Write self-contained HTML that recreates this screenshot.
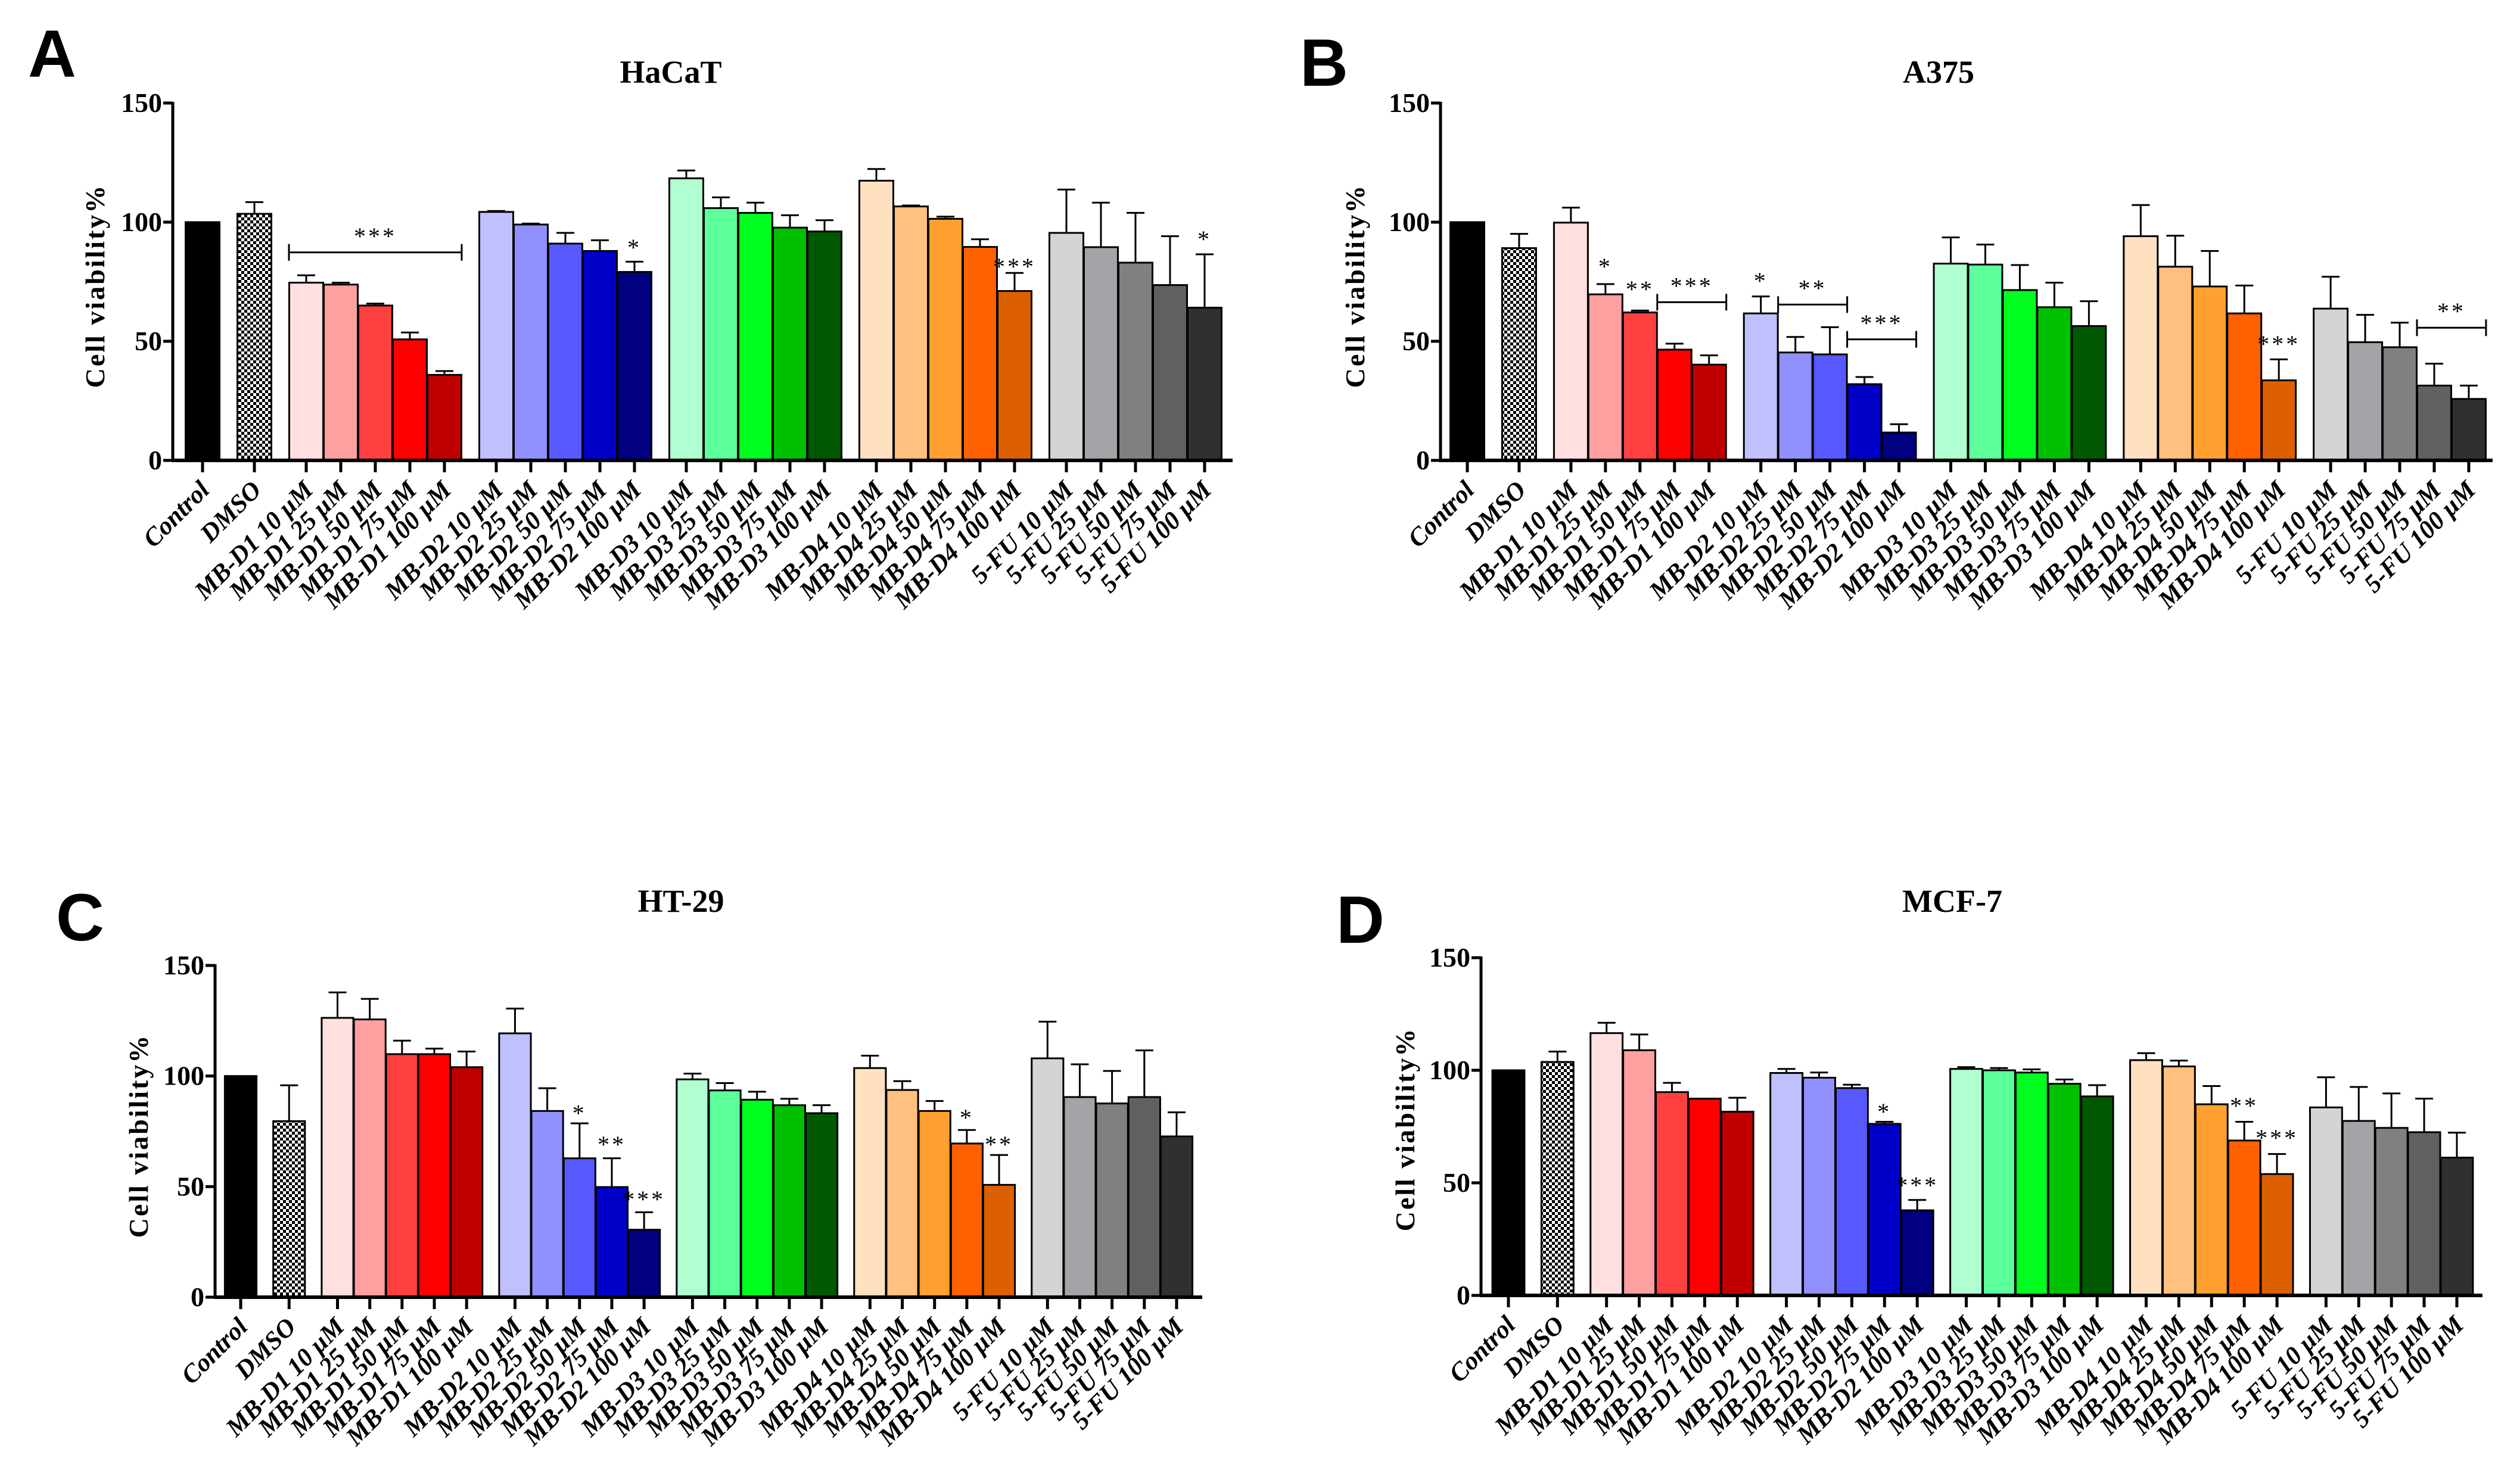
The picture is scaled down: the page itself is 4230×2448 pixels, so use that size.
<!DOCTYPE html>
<html><head><meta charset="utf-8"><style>
html,body{margin:0;padding:0;background:#fff}
svg{display:block}
</style></head><body>
<svg id="fig" width="4230" height="2448" viewBox="0 0 4230 2448" xmlns="http://www.w3.org/2000/svg">
<defs>
<pattern id="chk" width="10" height="10" patternUnits="userSpaceOnUse">
<rect width="10" height="10" fill="#fff"/><rect width="5" height="5" fill="#000"/><rect x="5" y="5" width="5" height="5" fill="#000"/>
</pattern>
</defs>
</svg>
<script>
const categories = ["Control","DMSO","MB-D1 10 μM","MB-D1 25 μM","MB-D1 50 μM","MB-D1 75 μM","MB-D1 100 μM","MB-D2 10 μM","MB-D2 25 μM","MB-D2 50 μM","MB-D2 75 μM","MB-D2 100 μM","MB-D3 10 μM","MB-D3 25 μM","MB-D3 50 μM","MB-D3 75 μM","MB-D3 100 μM","MB-D4 10 μM","MB-D4 25 μM","MB-D4 50 μM","MB-D4 75 μM","MB-D4 100 μM","5-FU 10 μM","5-FU 25 μM","5-FU 50 μM","5-FU 75 μM","5-FU 100 μM"];
const yTicks = [0,50,100,150];
const valuesA = [100,103.5,74.6,73.8,65.0,50.8,35.9,104.3,99.0,91.0,87.9,79.1,118.4,105.9,103.9,97.7,96.1,117.4,106.6,101.4,89.6,71.1,95.5,89.5,83.0,73.6,64.1];
const errTopA = [100,108.4,77.7,74.6,65.8,53.7,37.5,104.7,99.4,95.5,92.4,83.4,121.7,110.4,108.2,102.9,100.8,122.3,107.0,102.3,92.8,78.7,113.7,108.2,103.9,94.1,86.5];
const valuesB = [100,89.1,99.8,69.7,62.1,46.5,40.2,61.7,45.3,44.5,32.0,11.7,82.6,82.2,71.5,64.3,56.4,94.1,81.3,73.0,61.7,33.6,63.7,49.6,47.5,31.4,25.8];
const errTopB = [100,95.1,106.1,74.0,62.9,49.0,44.1,68.8,51.8,55.9,35.0,15.2,93.6,90.6,82.0,74.6,66.8,107.2,94.3,87.9,73.4,42.4,77.1,61.1,57.8,40.6,31.4];
const valuesC = [100,79.6,126.3,125.6,109.9,109.9,104.0,119.3,84.2,62.8,49.8,30.5,98.5,93.5,89.3,86.8,83.2,103.6,93.7,84.2,69.5,50.8,108.0,90.5,87.6,90.5,72.7];
const errTopC = [100,95.8,137.8,134.9,116.0,112.4,111.1,130.5,94.5,78.6,62.8,38.4,101.1,96.8,92.9,89.7,86.8,109.2,97.7,88.7,75.6,64.3,124.6,105.3,102.3,111.6,83.6];
const valuesD = [100,103.7,116.5,108.9,90.3,87.4,81.6,98.8,96.7,92.1,76.2,37.8,100.6,100.0,99.0,94.0,88.4,104.5,101.7,84.9,68.8,53.9,83.5,77.5,74.4,72.5,61.2];
const errTopD = [100,108.3,121.1,115.9,94.4,87.6,87.8,100.6,99.0,93.6,77.1,42.4,101.4,101.0,100.4,95.9,93.4,107.6,104.3,93.0,77.1,62.8,96.9,92.6,89.7,87.4,72.3];
// significance marks: [firstIndex, lastIndex, label, value-level, hasBracket]
const sigA = [[2,6,"***",87.3,1],[11,11,"*",91,0],[21,21,"***",83,0],[26,26,"*",94.5,0]];
const sigB = [[3,3,"*",83,0],[4,4,"**",73.5,0],[5,6,"***",66.4,1],[7,7,"*",77,0],[8,9,"**",65.4,1],[10,11,"***",50.8,1],[21,21,"***",50.5,0],[25,26,"**",55.7,1]];
const sigC = [[9,9,"*",85,0],[10,10,"**",70.8,0],[11,11,"***",46,0],[20,20,"*",83,0],[21,21,"**",70.8,0]];
const sigD = [[10,10,"*",83.3,0],[11,11,"***",50.7,0],[20,20,"**",86,0],[21,21,"***",71.7,0]];
const colors = ["#000000","url(#chk)","#FFDFE0","#FFA0A0","#FF4040","#FF0000","#C00000","#C0C0FF","#9090FF","#5858FF","#0000C8","#000080","#B0FFD0","#5CFF9A","#00FF20","#00C000","#005800","#FFE0C0","#FFC080","#FFA030","#FF6000","#DC6000","#D4D4D4","#A4A4A8","#808080","#606060","#303030"];
const slots = [0,1.5,3,4,5,6,7,8.5,9.5,10.5,11.5,12.5,14,15,16,17,18,19.5,20.5,21.5,22.5,23.5,25,26,27,28,29];

const NS="http://www.w3.org/2000/svg";
const svg=document.getElementById('fig');
function mk(tag,attrs,parent){const e=document.createElementNS(NS,tag);for(const k in attrs)e.setAttribute(k,attrs[k]);(parent||svg).appendChild(e);return e;}

const panels=[
 {id:"a",letter:"A",title:"HaCaT",vals:valuesA,errs:errTopA,sig:sigA,ax:290,y0:773,y150:173,xEnd:2069,c0:340,cN:2022,lx:47,lb:129,tx:1126,tb:139,ytx:159,yty:480},
 {id:"b",letter:"B",title:"A375",vals:valuesB,errs:errTopB,sig:sigB,ax:2418,y0:773,y150:173,xEnd:4184,c0:2463,cN:4144,lx:2182,lb:144,tx:3254,tb:139,ytx:2274,yty:480},
 {id:"c",letter:"C",title:"HT-29",vals:valuesC,errs:errTopC,sig:sigC,ax:361,y0:2178,y150:1621,xEnd:2018,c0:404,cN:1975,lx:94,lb:1579,tx:1143,tb:1531,ytx:232,yty:1907},
 {id:"d",letter:"D",title:"MCF-7",vals:valuesD,errs:errTopD,sig:sigD,ax:2486,y0:2175,y150:1608,xEnd:4167,c0:2532,cN:4124,lx:2243,lb:1583,tx:3277,tb:1531,ytx:2358,yty:1896}
];

panels.forEach(p=>{
 const g=mk('g',{});
 
 
 const s=(p.cN-p.c0)/29;
 const X=i=>p.c0+slots[i]*s;
 const Y=v=>p.y0-(v/150)*(p.y0-p.y150);
 const L=mk('text',{x:p.lx,y:p.lb,'font-family':'Liberation Sans, sans-serif','font-weight':'bold','font-size':112},g);
 L.textContent=p.letter;
 
 
 const T=mk('text',{x:p.tx,y:p.tb,'text-anchor':'middle','font-family':'Liberation Serif, serif','font-weight':'bold','font-size':54},g);
 T.textContent=p.title;
 
 
 const YT=mk('text',{x:0,y:0,transform:`translate(${p.ytx+16},${p.yty}) rotate(-90)`,'text-anchor':'middle','font-family':'Liberation Serif, serif','font-weight':'bold','font-size':46,'letter-spacing':3},g);
 YT.textContent="Cell viability%";
 
 
 categories.forEach((c,i)=>{
  const x=X(i), v=p.vals[i], e=p.errs[i];
  const bw=s-1;
  const r=mk('rect',{x:x-bw/2,y:Y(v),width:bw,height:p.y0-Y(v),fill:colors[i],stroke:'#000','stroke-width':3},g);
  
  
  if(e-v>0.3){
   const eb=mk('path',{d:`M${x} ${Y(v)} V${Y(e)} M${x-15} ${Y(e)} H${x+15}`,stroke:'#000','stroke-width':3,fill:'none'},g);
   
   
  }
  const tk=mk('line',{x1:x,y1:p.y0,x2:x,y2:p.y0+20,stroke:'#000','stroke-width':5},g);
  
  
  const lab=mk('text',{transform:`translate(${x+14},${p.y0+52}) rotate(-45)`,'text-anchor':'end','font-family':'Liberation Serif, serif','font-weight':'bold','font-style':'italic','font-size':43},g);
  lab.textContent=c;
  
  
 });
 const axY=mk('line',{x1:p.ax,y1:p.y150-2,x2:p.ax,y2:p.y0+2,stroke:'#000','stroke-width':5},g);
 
 
 const axX=mk('line',{x1:p.ax-2,y1:p.y0,x2:p.xEnd,y2:p.y0,stroke:'#000','stroke-width':6},g);
 
 
 yTicks.forEach(t=>{
  const l=mk('line',{x1:p.ax-16,y1:Y(t),x2:p.ax,y2:Y(t),stroke:'#000','stroke-width':5},g);
  
  
  const tl=mk('text',{x:p.ax-18,y:Y(t)+15,'text-anchor':'end','font-family':'Liberation Serif, serif','font-weight':'bold','font-size':46},g);
  tl.textContent=t;
  
  
 });
 p.sig.forEach(sg=>{
  const [a,b,txt,lev,br]=sg;
  const yy=Y(lev);
  let cx=(X(a)+X(b))/2;
  if(br){
   const x1=X(a)-s/2, x2=X(b)+s/2;
   const bp=mk('path',{d:`M${x1} ${yy-14} V${yy+14} M${x1} ${yy} H${x2} M${x2} ${yy-14} V${yy+14}`,stroke:'#000','stroke-width':3,fill:'none'},g);
   
   
  }
  const st=mk('text',{x:cx,y:br?yy-14:yy+20,'text-anchor':'middle','font-family':'Liberation Serif, serif','font-size':40,'letter-spacing':4},g);
  st.textContent=txt;
  
  
 });
});
</script>
</body></html>
